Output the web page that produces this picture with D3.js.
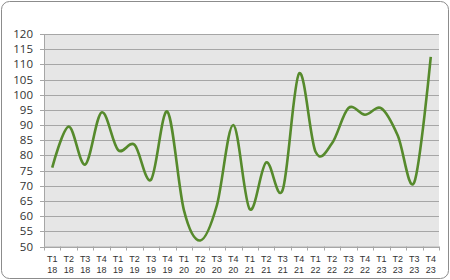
<!DOCTYPE html>
<html>
<head>
<meta charset="utf-8">
<script src="https://cdn.jsdelivr.net/npm/d3@7"></script>
<style>
  body { margin: 0; background: #fff; }
  text { font-family: "Open Sans", "DejaVu Sans", sans-serif; fill: #333; }
  text.xlab { font-family: "Liberation Sans", Arial, sans-serif; font-size: 9px; }
</style>
</head>
<body>
<div id="chart"></div>
<script>
// quarters and values
const quarters = ["T1", "T2", "T3", "T4"];
const years = ["18", "19", "20", "21", "22", "23"];
const values = [76, 89.5, 77, 94.2, 81.8, 83.5, 72, 94.4, 62, 52, 63.5, 90,
                62.3, 77.7, 68.6, 107, 81.2, 84, 95.6, 93.4, 95.5, 86.5, 71.2, 112.5];
const yTicks = [50, 55, 60, 65, 70, 75, 80, 85, 90, 95, 100, 105, 110, 115, 120];

const categories = [];
years.forEach(y => quarters.forEach(q => categories.push(q + " " + y)));

const svgWidth = 450, svgHeight = 280;
const margin = { top: 34, right: 11, bottom: 33.5, left: 44 };
const width = svgWidth - margin.left - margin.right;
const height = svgHeight - margin.top - margin.bottom;

const root = d3.select("#chart").append("svg")
    .attr("width", svgWidth)
    .attr("height", svgHeight);

// outer frame
root.append("rect")
    .attr("x", 1.5).attr("y", 1.5)
    .attr("width", svgWidth - 3).attr("height", svgHeight - 3)
    .attr("rx", 8)
    .attr("fill", "#fff")
    .attr("stroke", "#8c8c8c")
    .attr("stroke-width", 1);

const svg = root.append("g")
    .attr("transform", `translate(${margin.left},${margin.top})`);

const x = d3.scaleBand().domain(categories).range([0, width]);
const y = d3.scaleLinear().domain([50, 120]).range([height, 0]);

svg.append("rect")
    .attr("width", width).attr("height", height)
    .attr("fill", "#e6e6e6");

// gridlines
svg.selectAll(".grid").data(yTicks).enter().append("line")
    .attr("x1", -4).attr("x2", width)
    .attr("y1", d => Math.round(y(d)) + 0.5).attr("y2", d => Math.round(y(d)) + 0.5)
    .attr("stroke", "#a6a6a6").attr("stroke-width", 1);

// y axis labels
svg.selectAll(".ylab").data(yTicks).enter().append("text")
    .attr("x", -11).attr("y", d => y(d))
    .attr("dy", "0.35em")
    .attr("text-anchor", "end")
    .style("font-size", "11.5px")
    .text(d => d);

// axis lines
svg.append("line")
    .attr("x1", 0.5).attr("x2", 0.5).attr("y1", 0).attr("y2", height)
    .attr("stroke", "#a6a6a6");
svg.append("line")
    .attr("x1", 0).attr("x2", width).attr("y1", height + 0.5).attr("y2", height + 0.5)
    .attr("stroke", "#a6a6a6");

// x ticks at category boundaries
const bounds = categories.map(c => x(c)).concat([width]);
svg.selectAll(".xtick").data(bounds).enter().append("line")
    .attr("x1", d => Math.round(d) + 0.5).attr("x2", d => Math.round(d) + 0.5)
    .attr("y1", height).attr("y2", height + 4)
    .attr("stroke", "#a6a6a6");

// x labels, quarter on top, year below
svg.selectAll(".xq").data(categories).enter().append("text")
    .attr("class", "xlab")
    .attr("x", d => x(d) + x.bandwidth() / 2).attr("y", height + 15)
    .attr("text-anchor", "middle")
    .text(d => d.split(" ")[0]);
svg.selectAll(".xy").data(categories).enter().append("text")
    .attr("class", "xlab")
    .attr("x", d => x(d) + x.bandwidth() / 2).attr("y", height + 26)
    .attr("text-anchor", "middle")
    .text(d => d.split(" ")[1]);

// smooth line
const line = d3.line()
    .x((d, i) => x(categories[i]) + x.bandwidth() / 2)
    .y(d => y(d))
    .curve(d3.curveCardinal.tension(0));

svg.append("path")
    .datum(values)
    .attr("d", line)
    .attr("fill", "none")
    .attr("stroke", "#568a2c")
    .attr("stroke-width", 2.6)
    .attr("stroke-linejoin", "round");
</script>
</body>
</html>
